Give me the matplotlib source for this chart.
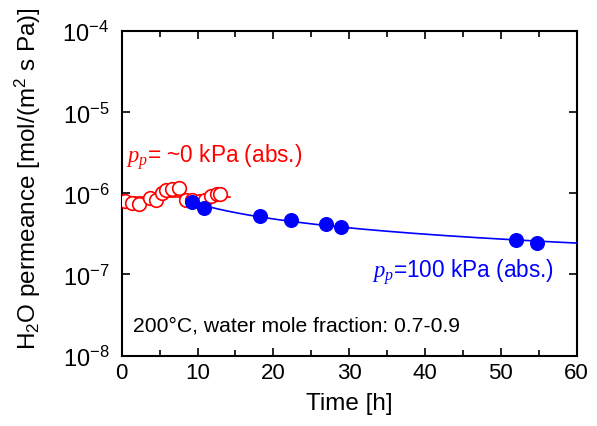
import numpy as np
import matplotlib
matplotlib.use("Agg")
import matplotlib.pyplot as plt
from matplotlib.ticker import MultipleLocator, FixedLocator

plt.rcParams['font.family'] = ['Liberation Sans', 'DejaVu Sans']
plt.rcParams['mathtext.fontset'] = 'custom'
plt.rcParams['mathtext.rm'] = 'Liberation Sans'
plt.rcParams['mathtext.it'] = 'Liberation Serif:italic'
plt.rcParams['mathtext.default'] = 'regular'

# Data: p_p ~ 0 kPa (red open circles)
t_low = [0.4, 1.3, 2.3, 3.7, 4.5, 5.3, 5.9, 6.6, 7.5, 8.5, 9.3, 10.3, 11.0, 11.8, 12.5, 13.0]
perm_low = [8.0e-7, 7.7e-7, 7.5e-7, 8.8e-7, 8.4e-7, 1.0e-6, 1.1e-6, 1.14e-6, 1.15e-6, 8.4e-7,
            8.2e-7, 8.0e-7, 8.4e-7, 9.4e-7, 9.7e-7, 9.9e-7]

# Data: p_p = 100 kPa (blue filled circles)
t_high = [9.3, 10.9, 18.2, 22.3, 27.0, 28.9, 52.0, 54.7]
perm_high = [7.8e-7, 6.65e-7, 5.25e-7, 4.73e-7, 4.18e-7, 3.88e-7, 2.63e-7, 2.48e-7]

xticks = [0, 10, 20, 30, 40, 50, 60]
ytick_labels = ['$10^{-8}$', '$10^{-7}$', '$10^{-6}$', '$10^{-5}$', '$10^{-4}$']
yticks = [1e-8, 1e-7, 1e-6, 1e-5, 1e-4]

fig = plt.figure(figsize=(5.97, 4.27), dpi=100)
ax = fig.add_axes([0.2039, 0.165, 0.966 - 0.2039, 0.9244 - 0.165])

# red mean line
mean_low = 10 ** np.mean(np.log10(perm_low))
ax.plot([0, 14.3], [mean_low, mean_low], color='red', lw=1.2, zorder=2)
ax.plot(t_low, perm_low, 'o', ms=9.8, mfc='white', mec='red', mew=1.2, zorder=3)

# blue power-law fit
coef = np.polyfit(np.log10(t_high), np.log10(perm_high), 1)
tf = np.linspace(t_high[0], 60, 200)
ax.plot(tf, 10 ** np.polyval(coef, np.log10(tf)), color='blue', lw=1.2, zorder=4)
ax.plot(t_high, perm_high, 'o', ms=9.8, color='blue', mec='blue', zorder=5)

ax.set_yscale('log')
ax.set_xlim(0, 60)
ax.set_ylim(1e-8, 1e-4)
ax.set_xticks(xticks)
ax.set_xticklabels([str(v) for v in xticks])
ax.xaxis.set_minor_locator(MultipleLocator(5))
ax.set_yticks(yticks)
ax.set_yticklabels(ytick_labels)
ax.yaxis.set_minor_locator(FixedLocator([]))

ax.tick_params(which='both', direction='in', top=True, right=True, width=1.2)
ax.tick_params(axis='x', labelsize=16, pad=5)
ax.tick_params(axis='y', labelsize=17, pad=9)
ax.tick_params(which='major', length=6)
ax.tick_params(which='minor', length=4)
for s in ax.spines.values():
    s.set_linewidth(1.5)

ax.set_xlabel('Time [h]', fontsize=17.5, labelpad=6)
ax.set_ylabel('H$_2$O permeance [mol/(m$^2$ s Pa)]', fontsize=17.5)
ax.yaxis.set_label_coords(-0.172, 0.548)

ax.text(0.6, 2.86e-6, r'$\mathit{p_p}$= ~0 kPa (abs.)', color='red', fontsize=16.3, va='center', ha='left')
ax.text(33.0, 1.1e-7, r'$\mathit{p_p}$=100 kPa (abs.)', color='blue', fontsize=16.3, va='center', ha='left')
ax.text(1.5, 2.4e-8, '200°C, water mole fraction: 0.7-0.9', color='black', fontsize=15.2, va='center', ha='left')

fig.savefig('out.png', dpi=100)
